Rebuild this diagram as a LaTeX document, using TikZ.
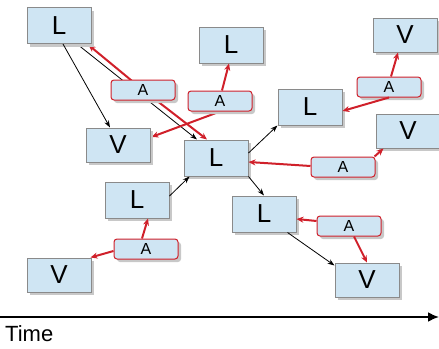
\documentclass[tikz,border=0pt]{standalone}
\usepackage{fontspec}
\setmainfont{Liberation Sans}
\usetikzlibrary{arrows.meta,shadows,backgrounds}
\definecolor{boxfill}{HTML}{CFE5F3}
\definecolor{boxline}{HTML}{8A8A8A}
\definecolor{ared}{HTML}{D0202A}
\definecolor{shade}{HTML}{C8C8C8}
\tikzset{
  box/.style={draw=boxline, line width=1pt, fill=boxfill, minimum width=64pt, minimum height=36pt,
    inner sep=0pt, font=\fontsize{26}{26}\selectfont,
    drop shadow={shadow xshift=3pt, shadow yshift=-3pt, fill=shade, opacity=1}},
  vbox/.style={box, minimum height=34pt},
  abox/.style={draw=ared, line width=1pt, fill=boxfill, rounded corners=3pt, minimum width=64pt,
    minimum height=20pt, inner sep=0pt, font=\fontsize{16}{16}\selectfont,
    drop shadow={shadow xshift=3pt, shadow yshift=-3pt, fill=shade, opacity=1}},
  blk/.style={black, line width=0.8pt, -{Stealth[length=7pt,width=5pt]}},
  red/.style={ared, line width=2pt, -{Stealth[length=7pt,width=6pt]}},
}
\begin{document}
\begin{tikzpicture}[x=1pt,y=-1pt]
\useasboundingbox (0,0) rectangle (439,348);
% boxes
\node[box]  (L1)  at (59,25.5) {L};
\node[vbox] (V1)  at (118,145) {V};
\node[box]  (Lc)  at (216,158) {L};
\node[box]  (Lt)  at (231,45)  {L};
\node[box]  (Lr)  at (310,107) {L};
\node[vbox] (Vtr) at (405,35)  {V};
\node[vbox] (Vr)  at (408,131) {V};
\node[box]  (Lll) at (137,200) {L};
\node[vbox] (Vbl) at (59,275)  {V};
\node[box]  (Llr) at (264,214) {L};
\node[vbox] (Vbr) at (367,280) {V};
% A nodes
\node[abox] (A1) at (143,90)  {A};
\node[abox] (A2) at (220,101) {A};
\node[abox] (A3) at (389,87)  {A};
\node[abox] (A4) at (343,167) {A};
\node[abox] (A5) at (146,249) {A};
\node[abox] (A6) at (349,226) {A};
% connectors passing behind A nodes
\begin{scope}[on background layer]
  \draw[blk] ([xshift=18pt]L1.south) -- ([xshift=-19pt]Lc.north);
  \draw[red] (A1.center) -- ([xshift=-3pt,yshift=-1pt]L1.south east);
  \draw[red] (A1.center) -- ([xshift=-9pt]Lc.north);
  \draw[red] (A2.south) -- ([xshift=1pt,yshift=8pt]V1.east);
\end{scope}
% black connectors
\draw[blk] ([xshift=4pt]L1.south) -- ([xshift=-8pt]V1.north);
\draw[blk] ([yshift=5pt]Lc.east) -- (Lr.south west);
\draw[blk] ([yshift=4pt]Lll.east) -- ([xshift=6pt]Lc.south west);
\draw[blk] (Lc.south east) -- (Llr.north);
\draw[blk] ([xshift=-9pt]Llr.south east) -- ([yshift=-3pt]Vbr.north west);
% red connectors
\draw[red] ([xshift=2pt]A2.north) -- ([xshift=-2pt]Lt.south);
\draw[red] (A3.south) -- ([yshift=-4pt]Lr.east);
\draw[red] ([xshift=2pt]A3.north) -- ([xshift=-7pt]Vtr.south);
\draw[red] ([yshift=1pt]A4.west) -- ([yshift=-4pt]Lc.east);
\draw[red] ([xshift=-1pt]A4.north east) -- ([xshift=8pt]Vr.south west);
\draw[red] ([xshift=-4pt]A5.north) -- ([xshift=11pt]Lll.south);
\draw[red] ([yshift=-2pt]A5.west) -- ([xshift=-1pt]Vbl.north east);
\draw[red] ([yshift=5pt]A6.west) -- ([yshift=-5pt]Llr.east);
\draw[red] ([xshift=5pt]A6.south) -- (Vbr.north);
% time axis
\coordinate (t0) at (0,317);
\coordinate (t1) at (439,317);
\draw[line width=2pt, -{Latex[length=11pt,width=10pt]}] (t0) -- (t1);
\node[anchor=west, inner sep=0pt, font=\fontsize{22}{22}\selectfont] (time) at (5,334) {Time};
\end{tikzpicture}
\end{document}
